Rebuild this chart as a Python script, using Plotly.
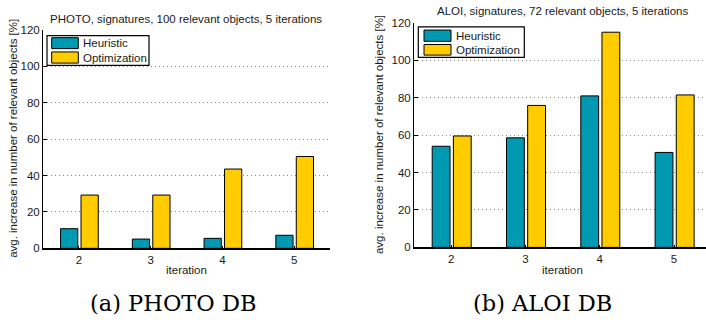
import plotly.graph_objects as go

# Data
iterations = [2, 3, 4, 5]
photo_heuristic = [10.8, 5.1, 5.5, 7.2]
photo_optimization = [29.3, 29.3, 43.6, 50.5]
aloi_heuristic = [54.0, 58.5, 80.9, 50.7]
aloi_optimization = [59.5, 75.8, 114.9, 81.4]
y_ticks = [0, 20, 40, 60, 80, 100, 120]
series_names = ["Heuristic", "Optimization"]

W, H = 706, 323
TEAL = "#0099B2"
YELLOW = "#FFCC00"
SANS = "Liberation Sans, Arial, sans-serif"
SERIF = "DejaVu Serif, serif"
TXT = "#1a1a1a"


def px(x):
    return x / W


def py(y):
    return (H - y) / H


fig = go.Figure()

panels = [
    dict(xa="x", ya="y", heur=photo_heuristic, opt=photo_optimization),
    dict(xa="x2", ya="y2", heur=aloi_heuristic, opt=aloi_optimization),
]
for p in panels:
    fig.add_trace(go.Bar(
        x=iterations, y=p["heur"], name=series_names[0], xaxis=p["xa"], yaxis=p["ya"],
        width=0.24, offset=-0.255, showlegend=False,
        marker=dict(color=TEAL, line=dict(color="black", width=1)),
    ))
    fig.add_trace(go.Bar(
        x=iterations, y=p["opt"], name=series_names[1], xaxis=p["xa"], yaxis=p["ya"],
        width=0.24, offset=0.03, showlegend=False,
        marker=dict(color=YELLOW, line=dict(color="black", width=1)),
    ))

xcommon = dict(
    tickvals=iterations, showgrid=False, zeroline=False, showline=True,
    linecolor="black", linewidth=1.5, ticks="inside", ticklen=3, tickcolor="black",
    tickfont=dict(family=SANS, size=11.5, color=TXT),
)
ycommon = dict(
    range=[0, 120], tickvals=y_ticks, showgrid=True, gridcolor="#8c8c8c",
    griddash="1px,3px", gridwidth=1, zeroline=False, showline=True, linecolor="black",
    linewidth=1, ticks="inside", ticklen=4, tickcolor="black",
    tickfont=dict(family=SANS, size=11.5, color=TXT),
)

fig.update_layout(
    width=W, height=H, margin=dict(l=0, r=0, t=0, b=0),
    paper_bgcolor="white", plot_bgcolor="white",
    barmode="group", showlegend=False,
    xaxis=dict(domain=[px(43), px(330)], range=[1.5, 5.5], anchor="y", **xcommon),
    yaxis=dict(domain=[py(251.7), py(25)], anchor="x", **ycommon),
    xaxis2=dict(domain=[px(414), 1.0], range=[1.5, 5.43], anchor="y2", **xcommon),
    yaxis2=dict(domain=[py(250.7), py(17.3)], anchor="x2", **ycommon),
)


def text(t, x, y, size=11.5, angle=0, family=SANS, xanchor="center", color=TXT):
    fig.add_annotation(
        text=t, x=px(x), y=py(y), xref="paper", yref="paper",
        xanchor=xanchor, yanchor="middle", showarrow=False, textangle=angle,
        font=dict(family=family, size=size, color=color),
    )


def rect(x0, y0, x1, y1, fill, lw=1):
    fig.add_shape(
        type="rect", xref="paper", yref="paper",
        x0=px(x0), x1=px(x1), y0=py(y1), y1=py(y0),
        fillcolor=fill, line=dict(color="black", width=lw),
    )


# Legend boxes: (box left, top, right, bottom, swatch rows (top, bottom), text x)
legends = [
    dict(box=(47, 30.7, 149, 61.7), sw_x=(51.7, 78.3),
         rows=[(32.9, 44.3), (47.7, 59.3)], tx=81),
    dict(box=(418.3, 21.7, 524.3, 53.3), sw_x=(424, 451),
         rows=[(25, 36.7), (40, 51)], tx=453.5),
]
for lg in legends:
    rect(*lg["box"], "white", lw=1.2)
    for (top, bot), name, col in zip(lg["rows"], series_names, [TEAL, YELLOW]):
        rect(lg["sw_x"][0], top, lg["sw_x"][1], bot, col)
        text(name, lg["tx"], (top + bot) / 2, xanchor="left")

text("PHOTO, signatures, 100 relevant objects, 5 iterations", 186.5, 14)
text("ALOI, signatures, 72 relevant objects, 5 iterations", 562.5, 5)
text("iteration", 186.5, 274)
text("iteration", 562.5, 274)
text("avg. increase in number of relevant objects [%]", 13, 138, angle=-90)
text("avg. increase in number of relevant objects [%]", 379, 134, angle=-90)

# Sub-figure captions
text("(a) PHOTO DB", 173, 308, size=22.5, family=SERIF, color="black")
text("(b) ALOI DB", 542, 308, size=22.5, family=SERIF, color="black")

fig.write_html("out.html")
